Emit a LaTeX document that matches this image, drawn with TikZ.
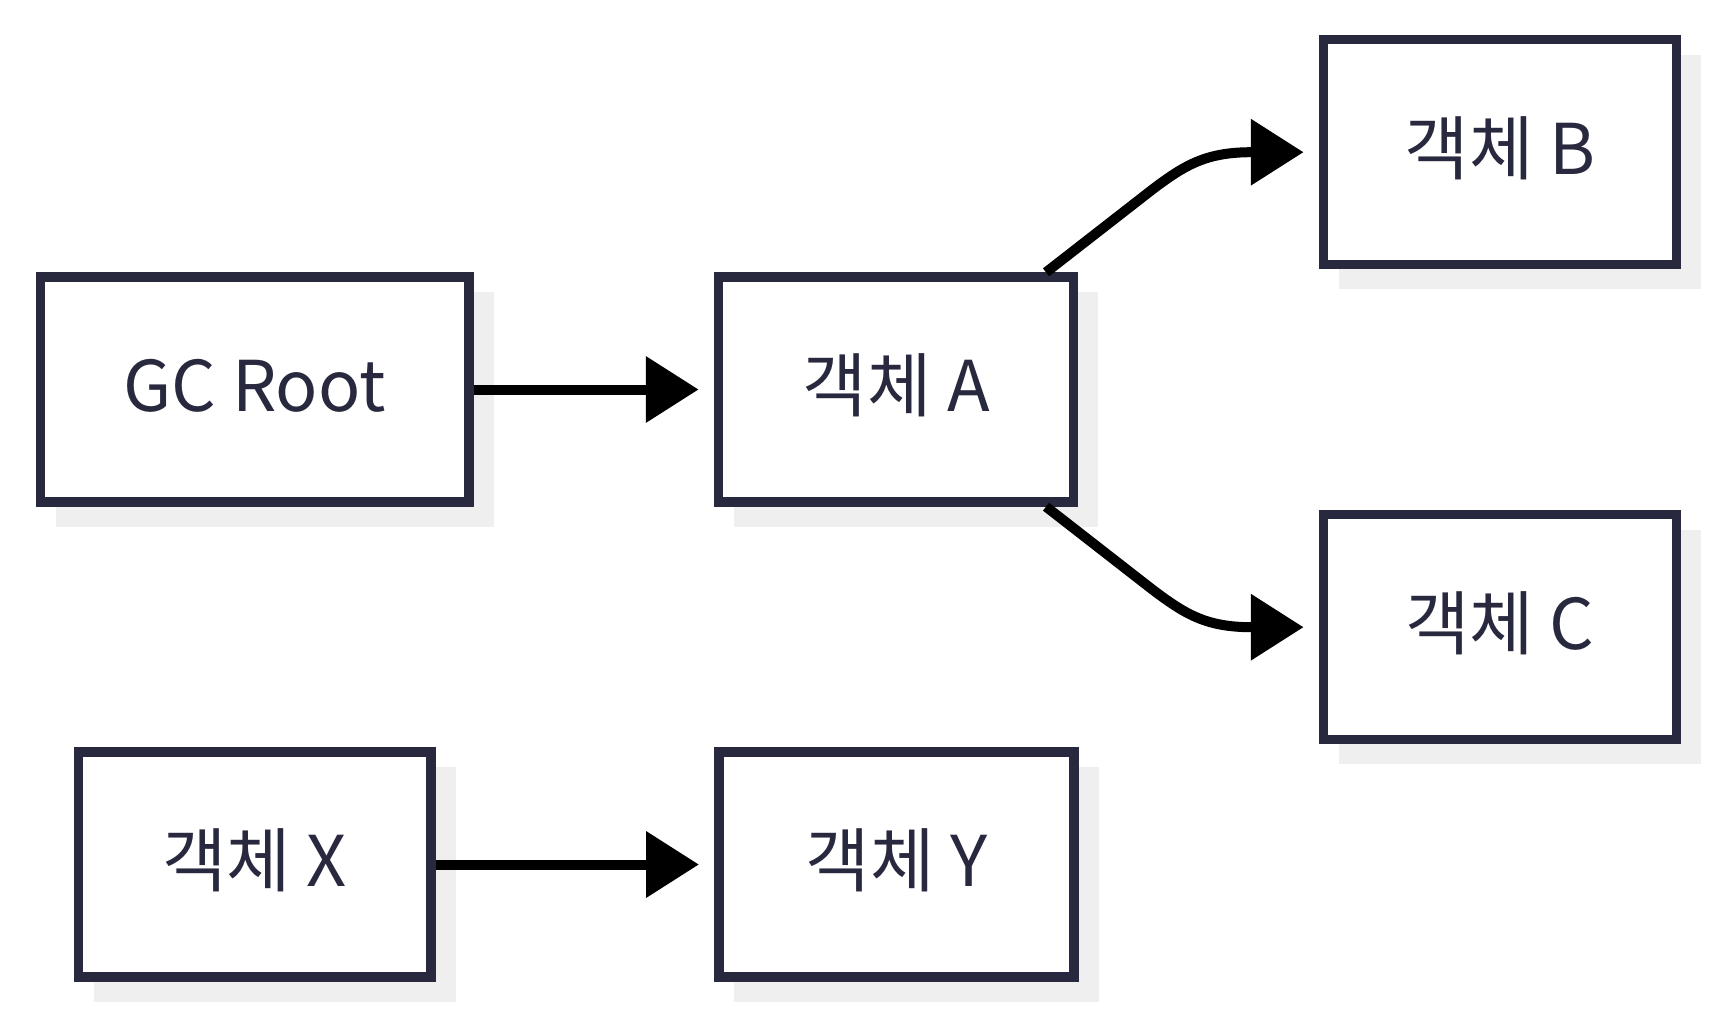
\documentclass[tikz,border=0pt]{standalone}
\usepackage{fontspec}
\setmainfont{Noto Sans CJK KR}
\usetikzlibrary{arrows.meta,calc}
\definecolor{boxline}{RGB}{40,40,62}
\definecolor{shadowgray}{RGB}{239,239,239}
\pgfdeclarelayer{bg}
\pgfsetlayers{bg,main}
\begin{document}
\begin{tikzpicture}[x=0.75pt,y=-0.75pt,
  box/.style={draw=boxline, line width=7pt, fill=white, minimum height=168.8pt,
    text=boxline, font=\fontsize{52.5pt}{60pt}\selectfont,
    text height=33pt, text depth=0pt, inner sep=0pt},
  widebox/.style={box, minimum width=321.5pt},
  midbox/.style={box, minimum width=266.4pt},
  narrowbox/.style={box, minimum width=264.5pt},
  link/.style={draw=black, line width=7.5pt,
    -{Triangle[length=39.5pt,width=48pt]}, shorten >=11.5pt}]
\useasboundingbox (0,0) rectangle (1716,1017);

\node[widebox]   (GC) at (254.7,389.5) {GC Root};
\node[midbox]    (A)  at (896.2,389.5) {객체 A};
\node[narrowbox] (B)  at (1499.9,152.2) {객체 B};
\node[narrowbox] (C)  at (1499.9,627.2) {객체 C};
\node[narrowbox] (X)  at (254.7,864.5) {객체 X};
\node[midbox]    (Y)  at (896.5,864.5) {객체 Y};

\begin{pgfonlayer}{bg}
\foreach \n in {GC,A,B,C,X,Y}
  \fill[shadowgray] ([shift={(20,20)}]\n.north west) rectangle ([shift={(20,20)}]\n.south east);
\end{pgfonlayer}

\coordinate (ab1) at (1153,189);
\coordinate (ab2) at (1251.7,152.2);
\coordinate (ac1) at (1153,590);
\coordinate (ac2) at (1251.7,627.2);

\draw[link] (GC) -- (A);
\draw[link] (A) -- (ab1) .. controls (1185,165) and (1206,152.2) .. (ab2) -- (B);
\draw[link] (A) -- (ac1) .. controls (1185,614) and (1206,627.2) .. (ac2) -- (C);
\draw[link] (X) -- (Y);
\end{tikzpicture}
\end{document}
